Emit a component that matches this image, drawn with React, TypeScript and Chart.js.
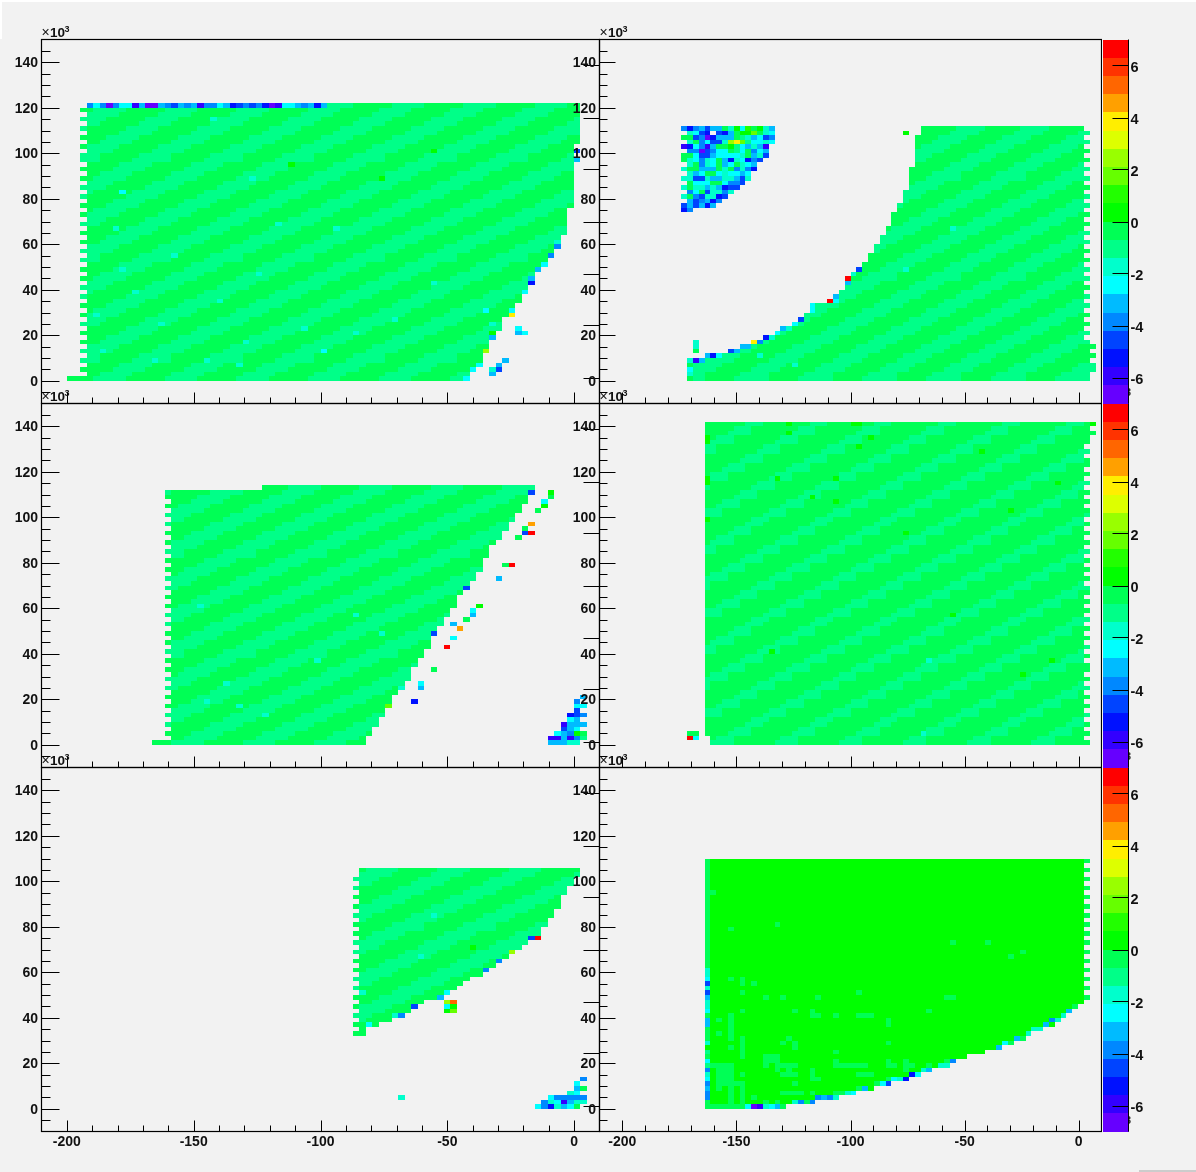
import React, { useEffect, useRef } from "react";
import { Chart, registerables, ScatterController } from "chart.js";

// ---- axes -------------------------------------------------------------
const xMajorTicks = [-200, -150, -100, -50, 0];
const xMinorTicks = [-190, -180, -170, -160, -140, -130, -120, -110, -90, -80, -70, -60, -40, -30, -20, -10];
const yMajorTicks = [0, 20, 40, 60, 80, 100, 120, 140];
const yMinorTicks = [-5, 5, 10, 15, 25, 30, 35, 45, 50, 55, 65, 70, 75, 85, 90, 95, 105, 110, 115, 125, 130, 135, 145];
const paletteTicks = [-6, -4, -2, 0, 2, 4, 6];
const paletteTicksInPadUnits = [1.4, 24.3, 47.1, 70, 92.9, 115.7, 138.6];

// ---- palette: 20 levels from -7 to 7, keyed a..t -----------------------
const levelKeys = "abcdefghijklmnopqrst";
const paletteColors = [
  "#6600ff", "#3300ff", "#0011ff", "#0044ff", "#0088ff", "#00bbff", "#00ffff", "#00ffcc", "#00ff88", "#00ff55",
  "#00ff00", "#22ff00", "#66ff00", "#99ff00", "#ddff00", "#ffee00", "#ffa000", "#ff6600", "#ff3300", "#ff0000",
];
const paletteEdges = [-7, -6.3, -5.6, -4.9, -4.2, -3.5, -2.8, -2.1, -1.4, -0.7, 0, 0.7, 1.4, 2.1, 2.8, 3.5, 4.2, 4.9, 5.6, 6.3];

// ---- the repeating diagonal band (11 bins x 22 rows), '#' = level i, '.' = level j.
// The texture of the bodies is this hand-read tile, not a bin-by-bin reading of every cell.
const wideBand = [
  "#####......", ".#####.....", "...#####...", "....#####..", "#.....#####", "#......####", "###......##", "####......#",
  ".#####.....", "..#####....", "....#####..", ".....#####.", "#......####", "##......###", "####......#", "#####......",
  "..#####....", "...#####...", ".....#####.", "......#####", "##......###", "###......##",
];
const narrowBand = [
  "####.......", ".###.......", "...####....", "....###....", "......####.", ".......###.", "#........##", "##........#",
  ".####......", "..###......", "....####...", ".....###...", ".......####", "........###", "###.......#", "###........",
  "..####.....", "...###.....", ".....####..", "......###..", "#.......###", "#........##",
];

// ---- first and one-past-last bin of every row, per panel ----------------
const p1Starts = [4, 7, 6, 7, 6, 7, 6, 7, 6, 7, 6, 7, 6, 7, 6, 7, 6, 7, 6, 7, 6, 7, 6, 7, 6, 7, 6, 7, 6, 7, 6, 7, 6, 7, 6, 7, 6, 7, 6, 7, 6, 7, 6, 7, 6, 7, 6, 7, 6, 6, 7, 6, 7, 6, 7, 6, 7, 6, 7, 6, 7];
const p1Ends = [66, 66, 67, 67, 68, 68, 69, 69, 69, 70, 70, 71, 71, 71, 73, 73, 73, 74, 74, 75, 75, 76, 76, 76, 77, 78, 78, 79, 79, 80, 80, 80, 81, 81, 81, 81, 81, 81, 82, 82, 82, 82, 82, 82, 82, 82, 82, 82, 82, 82, 83, 82, 83, 83, 83, 83, 83, 83, 83, 83, 83];
const p2Starts = [15, 15, 15, 15, 15, 18, 22, 24, 26, 28, 30, 31, 33, 34, 35, 36, 36, 39, 40, 41, 42, 42, 42, 43, 44, 45, 46, 46, 47, 47, 48, 48, 49, 49, 50, 50, 50, 51, 51, 52, 52, 52, 53, 53, 53, 53, 53, 54, 54, 54, 54, 54, 54, 54, 55, 55];
const p2Ends = [84, 84, 85, 85, 84, 85, 84, 85, 84, 83, 84, 83, 84, 83, 84, 83, 84, 83, 84, 83, 84, 83, 84, 83, 84, 83, 84, 83, 84, 83, 84, 83, 84, 83, 84, 83, 84, 83, 84, 83, 84, 83, 84, 83, 84, 83, 84, 83, 84, 83, 84, 83, 84, 83, 84, 83];
const p3Starts = [17, 20, 19, 20, 19, 20, 19, 20, 19, 20, 19, 20, 19, 20, 19, 20, 19, 20, 19, 20, 19, 20, 19, 20, 19, 20, 19, 20, 19, 20, 19, 20, 19, 20, 19, 20, 19, 20, 19, 20, 19, 20, 19, 20, 19, 20, 19, 20, 19, 20, 19, 20, 19, 20, 19, 19, 34];
const p3Ends = [50, 50, 51, 51, 52, 52, 53, 53, 54, 54, 54, 55, 56, 56, 57, 57, 57, 58, 58, 59, 59, 60, 60, 60, 61, 61, 62, 62, 63, 63, 64, 64, 64, 65, 66, 66, 67, 67, 68, 68, 68, 69, 69, 69, 70, 71, 71, 72, 72, 73, 73, 74, 74, 75, 75, 76, 76];
const p4Starts = [19, 19, 18, 18, 18, 18, 18, 18, 18, 18, 18, 18, 18, 18, 18, 18, 18, 18, 18, 18, 18, 18, 18, 18, 18, 18, 18, 18, 18, 18, 18, 18, 18, 18, 18, 18, 18, 18, 18, 18, 18, 18, 18, 18, 18, 18, 18, 18, 18, 18, 18, 18, 18, 18, 18, 18, 18, 18, 18, 18, 18, 18, 18, 18, 18, 18, 18, 18, 18, 18, 18];
const p4Ends = [84, 83, 84, 83, 84, 83, 84, 83, 84, 83, 84, 83, 84, 83, 84, 83, 84, 84, 83, 84, 83, 84, 83, 84, 83, 84, 83, 84, 83, 84, 83, 84, 83, 84, 84, 83, 84, 83, 84, 83, 84, 83, 84, 83, 84, 83, 84, 83, 84, 83, 84, 84, 83, 84, 83, 84, 83, 84, 83, 84, 83, 84, 84, 83, 84, 83, 84, 84, 85, 84, 84];
const p5Starts = [0, 0, 0, 0, 0, 0, 0, 0, 0, 0, 0, 0, 0, 0, 0, 0, 48, 49, 48, 49, 48, 49, 48, 49, 48, 49, 48, 49, 48, 49, 48, 49, 48, 49, 48, 49, 48, 49, 48, 49, 48, 49, 48, 49, 48, 49, 48, 49, 48, 49, 48, 49, 49];
const p5Ends = [0, 0, 0, 0, 0, 0, 0, 0, 0, 0, 0, 0, 0, 0, 0, 0, 50, 50, 52, 54, 55, 57, 58, 59, 62, 63, 64, 65, 66, 68, 69, 70, 71, 72, 73, 74, 75, 77, 77, 77, 78, 78, 79, 79, 80, 80, 80, 81, 81, 82, 82, 83, 83];
const p6Starts = [18, 18, 18, 18, 18, 18, 18, 18, 18, 18, 18, 18, 18, 18, 18, 18, 18, 18, 18, 18, 18, 18, 18, 18, 18, 18, 18, 18, 18, 18, 18, 18, 18, 18, 18, 18, 18, 18, 18, 18, 18, 18, 18, 18, 18, 18, 18, 18, 18, 18, 18, 18, 18, 18, 18];
const p6Ends = [32, 37, 41, 44, 47, 50, 53, 55, 57, 60, 61, 63, 66, 69, 71, 73, 74, 76, 78, 79, 80, 81, 82, 83, 84, 83, 84, 83, 84, 83, 84, 83, 84, 83, 84, 83, 84, 83, 84, 83, 84, 83, 84, 83, 84, 83, 84, 83, 84, 83, 84, 83, 84, 83, 84];

// ---- cells that differ from the body: [bin, row, level] -------------------
const p1TopRow = "egeaeggbfaafedfefbeegfcdedecabggfefcf"; // row 60 from bin 7
const p1Cells: [number, number, string][] = [
  [73, 11, "g"], [73, 10, "f"], [74, 10, "g"], [71, 4, "f"], [70, 3, "f"], [69, 2, "h"], [70, 2, "d"], [69, 1, "f"],
  [65, 0, "g"], [66, 2, "g"], [67, 3, "g"], [68, 6, "n"], [69, 9, "f"], [69, 10, "k"], [72, 14, "p"], [72, 15, "g"],
  [74, 19, "g"], [75, 21, "c"], [75, 22, "f"], [76, 24, "f"], [77, 25, "g"], [78, 27, "e"], [79, 29, "e"], [79, 30, "h"],
  [68, 15, "g"], [69, 12, "h"], [26, 57, "h"], [32, 44, "h"], [12, 41, "g"], [38, 47, "k"], [82, 50, "d"], [82, 48, "f"],
  [11, 33, "h"], [20, 27, "h"], [36, 34, "h"], [45, 33, "h"], [14, 19, "h"], [27, 17, "h"], [31, 8, "h"], [18, 12, "h"],
  [9, 6, "h"], [25, 4, "h"], [40, 11, "h"], [54, 13, "h"], [12, 24, "h"], [33, 23, "h"], [52, 44, "k"], [60, 50, "k"],
  [43, 6, "g"], [17, 4, "h"], [60, 21, "h"], [30, 3, "h"], [48, 10, "h"], [8, 14, "h"],
];
const p2Blob: [number, string][] = [ // row, palette keys from bin 14, '.' = empty
  [55, "ecefdffjhkgljkhf"], [54, ".hgdc.dcfjkkmjhg"], [53, "jjdeacfffjihfgde"], [52, ".hjegddhnpmigghg"],
  [51, "bcgebfjjkigfhfb"], [50, ".eeadeggjigjegf"], [49, "jjgddfgggghjfhd"], [48, "jhgehgjfchgced"],
  [47, ".hjehgjfgjhgf"], [46, "hjjfffjhjehec"], [45, ".hfgjjghggfg"], [44, "hhddhffhhfdh"],
  [43, ".jgggjjgeed"], [42, "hjhhfhfcdd"], [41, ".egjdhheh"], [40, "hjedhhcd"], [39, ".fdefce"], [38, "dfdfcf"], [37, "ce"],
];
const p2Cells: [number, number, string][] = [
  [16, 6, "j"], [16, 7, "h"], [16, 8, "h"], [15, 0, "j"], [15, 1, "h"], [15, 2, "g"], [15, 3, "j"], [15, 4, "h"], [16, 4, "b"], [17, 4, "f"],
  [18, 5, "f"], [19, 5, "c"], [20, 5, "g"], [22, 6, "d"], [23, 6, "f"], [24, 7, "f"], [25, 7, "f"], [26, 8, "p"], [27, 8, "e"], [28, 9, "c"], [29, 9, "h"],
  [30, 10, "g"], [31, 11, "f"], [32, 11, "h"], [33, 12, "g"], [34, 13, "d"], [36, 15, "g"], [36, 16, "g"], [39, 17, "t"], [40, 17, "g"], [40, 18, "f"],
  [42, 21, "f"], [42, 22, "t"], [43, 23, "h"], [44, 24, "d"], [52, 54, "k"], [52, 24, "h"], [27, 5, "h"], [33, 3, "h"], [60, 33, "h"],
];
const p3Cells: [number, number, string][] = [
  [78, 55, "k"], [78, 54, "j"], [77, 53, "g"], [77, 52, "k"], [76, 51, "j"], [75, 48, "q"], [74, 47, "j"], [74, 46, "d"], [75, 46, "t"], [73, 45, "j"],
  [71, 39, "j"], [72, 39, "t"], [70, 36, "f"], [75, 55, "d"], [65, 34, "d"], [67, 30, "k"], [66, 29, "g"], [66, 28, "f"], [65, 27, "j"], [64, 25, "q"],
  [60, 24, "d"], [63, 26, "f"], [63, 23, "g"], [62, 21, "t"], [60, 16, "j"], [58, 13, "g"], [58, 12, "f"], [57, 9, "c"], [53, 8, "m"],
  [78, 0, "f"], [79, 0, "f"], [80, 0, "f"], [81, 0, "h"], [82, 0, "h"],
  [78, 1, "b"], [79, 1, "b"], [80, 1, "f"], [81, 1, "b"], [82, 1, "e"], [83, 1, "i"],
  [79, 2, "g"], [80, 2, "f"], [81, 2, "e"], [82, 2, "k"], [83, 2, "j"],
  [80, 3, "d"], [81, 3, "f"], [82, 3, "g"], [80, 4, "b"], [81, 4, "f"], [82, 4, "f"], [83, 4, "f"],
  [81, 5, "g"], [82, 5, "f"], [81, 6, "c"], [82, 6, "d"], [83, 6, "e"], [82, 7, "d"], [82, 8, "g"], [83, 8, "g"], [82, 9, "e"], [83, 10, "f"],
  [25, 9, "h"], [28, 13, "h"], [30, 8, "h"], [34, 6, "h"], [42, 18, "h"], [48, 28, "h"], [52, 24, "h"], [24, 30, "h"], [55, 12, "h"],
];
const p4Cells: [number, number, string][] = [
  [32, 70, "k"], [43, 70, "k"], [44, 70, "k"], [32, 68, "k"], [18, 66, "k"], [18, 67, "k"], [46, 67, "k"], [44, 65, "k"], [30, 58, "k"], [40, 58, "k"],
  [18, 57, "k"], [18, 58, "k"], [36, 54, "k"], [40, 53, "k"], [18, 49, "k"], [56, 18, "h"], [29, 20, "k"], [72, 15, "k"], [77, 18, "k"], [84, 70, "k"],
  [15, 2, "j"], [16, 2, "j"], [15, 1, "t"], [16, 1, "g"], [52, 46, "k"], [65, 64, "k"], [70, 51, "k"], [60, 28, "k"], [78, 57, "k"], [55, 2, "h"],
];
const p5Cells: [number, number, string][] = [
  [62, 23, "n"], [63, 23, "r"], [62, 22, "g"], [63, 22, "k"], [62, 21, "k"], [63, 21, "m"],
  [83, 6, "e"], [82, 5, "g"], [82, 4, "f"], [83, 4, "j"], [81, 3, "h"], [82, 3, "g"],
  [78, 2, "g"], [79, 2, "e"], [80, 2, "e"], [81, 2, "e"], [82, 2, "e"], [83, 2, "e"],
  [77, 1, "e"], [78, 1, "h"], [79, 1, "g"], [80, 1, "b"], [81, 1, "f"], [82, 1, "h"], [83, 1, "h"],
  [76, 0, "g"], [77, 0, "e"], [78, 0, "c"], [79, 0, "h"], [80, 0, "f"], [81, 0, "g"], [82, 0, "j"],
  [55, 2, "h"], [72, 34, "n"], [70, 32, "e"], [68, 30, "e"], [62, 25, "g"], [61, 24, "f"], [76, 37, "t"], [75, 37, "d"],
  [55, 20, "e"], [54, 20, "h"], [50, 18, "g"], [57, 22, "d"], [49, 25, "h"], [60, 42, "h"], [58, 33, "h"], [66, 35, "k"],
];
const p6Cells: [number, number, string][] = [
  [25, 0, "g"], [26, 0, "a"], [27, 0, "b"], [28, 0, "h"], [29, 0, "g"], [30, 0, "f"], [31, 0, "j"],
  [33, 1, "h"], [34, 1, "e"], [35, 1, "j"], [36, 1, "e"], [37, 2, "e"], [38, 2, "f"], [39, 2, "e"], [40, 2, "h"],
  [40, 3, "j"], [41, 3, "j"], [42, 3, "h"], [43, 3, "g"], [44, 4, "j"], [45, 4, "f"], [46, 4, "k"],
  [47, 5, "j"], [48, 5, "g"], [49, 5, "d"], [49, 6, "j"], [50, 6, "g"], [51, 6, "h"], [52, 6, "c"],
  [53, 7, "c"], [54, 7, "g"], [55, 8, "h"], [56, 8, "f"], [56, 9, "j"], [58, 9, "h"], [59, 9, "h"], [59, 10, "j"], [60, 10, "e"],
  [68, 13, "f"], [69, 14, "g"], [70, 14, "j"], [71, 15, "f"], [72, 15, "j"], [73, 16, "h"], [74, 17, "h"], [75, 17, "h"],
  [76, 18, "f"], [77, 19, "e"], [78, 19, "h"], [79, 20, "h"], [80, 21, "f"], [81, 22, "j"],
  [30, 40, "j"], [60, 36, "j"], [66, 36, "j"], [70, 33, "j"], [72, 34, "j"], [19, 47, "j"], [22, 39, "j"],
];
const p6Strip = "jjeefegheigjikhjjjffjghhfdhdghh"; // bin 18 from row 0
const p6Patches: [number, number, number, number, string][] = [ // bins c0..c1, rows r0..r1
  [18, 19, 31, 55, "j"], [83, 85, 24, 55, "j"],
  [19, 25, 0, 1, "j"], [22, 23, 28, 29, "j"], [24, 25, 27, 29, "j"], [26, 27, 27, 28, "j"], [24, 25, 25, 26, "j"], [28, 29, 24, 25, "j"], [31, 32, 24, 25, "j"],
  [37, 38, 24, 25, "j"], [44, 45, 25, 26, "j"], [59, 61, 24, 25, "j"], [24, 25, 21, 22, "j"], [33, 34, 21, 22, "j"], [36, 37, 21, 22, "j"], [56, 57, 21, 22, "j"],
  [36, 38, 20, 21, "j"], [40, 41, 20, 21, "j"], [44, 47, 20, 21, "j"], [22, 23, 15, 21, "j"], [20, 21, 19, 20, "j"], [49, 50, 18, 20, "j"], [20, 21, 16, 17, "j"],
  [24, 25, 11, 16, "j"], [32, 33, 15, 16, "j"], [31, 32, 14, 15, "j"], [33, 34, 13, 15, "j"], [49, 50, 14, 15, "j"], [22, 23, 13, 14, "j"], [40, 41, 12, 13, "j"],
  [28, 31, 10, 12, "j"], [40, 41, 10, 11, "j"], [49, 50, 10, 11, "j"], [52, 53, 9, 11, "j"], [19, 23, 9, 10, "j"], [28, 29, 9, 10, "j"], [30, 34, 9, 10, "j"],
  [40, 46, 9, 10, "j"], [49, 51, 9, 10, "j"], [53, 54, 9, 10, "j"], [20, 23, 5, 9, "j"], [20, 21, 4, 5, "j"], [22, 23, 4, 5, "j"], [30, 31, 8, 9, "j"], [32, 33, 8, 9, "j"],
  [36, 37, 6, 9, "j"], [52, 53, 8, 9, "j"], [24, 25, 7, 8, "j"], [31, 34, 7, 8, "j"], [44, 47, 7, 8, "j"], [37, 38, 6, 7, "j"], [23, 25, 5, 6, "j"], [33, 34, 5, 6, "j"],
  [22, 23, 1, 4, "j"], [24, 25, 1, 6, "j"], [31, 35, 3, 4, "j"], [36, 37, 3, 4, "j"], [26, 27, 2, 3, "j"], [28, 29, 1, 2, "j"], [30, 31, 1, 2, "j"],
];

// ---- bins ---------------------------------------------------------------
const xMin = -210;
const xMax = 10;
const yMin = -10;
const yMax = 150;
const binCount = 86;
const binW = (xMax - xMin) / binCount;
const binH = 2;

type Grid = Map<string, number>;

function fillBody(g: Grid, starts: number[], ends: number[], body: string, band: string[] | null, dc: number, dr: number) {
  const base = levelKeys.indexOf(body);
  for (let r = 0; r < starts.length; r++) {
    for (let c = starts[r]; c < ends[r]; c++) {
      let lv = base;
      if (band && band[(r + dr) % band.length][(c + dc) % band[0].length] === "#") lv = base - 1;
      g.set(c + ":" + r, lv);
    }
  }
}
function putCells(g: Grid, cells: [number, number, string][]) {
  for (const [c, r, k] of cells) g.set(c + ":" + r, levelKeys.indexOf(k));
}
function toDatasets(g: Grid) {
  const byLevel: { x: number; y: number }[][] = paletteColors.map(() => []);
  g.forEach((lv, key) => {
    const [c, r] = key.split(":").map(Number);
    byLevel[lv].push({ x: xMin + c * binW, y: r * binH });
  });
  return byLevel
    .map((data, i) => ({ type: "cells", label: "level " + paletteEdges[i], data, backgroundColor: paletteColors[i], cellW: binW, cellH: binH, pointRadius: 0 }))
    .filter((d) => d.data.length > 0);
}

function panel1() {
  const g: Grid = new Map();
  fillBody(g, p1Starts, p1Ends, "j", wideBand, 3, 0);
  [...p1TopRow].forEach((k, i) => g.set(7 + i + ":60", levelKeys.indexOf(k)));
  putCells(g, p1Cells);
  return toDatasets(g);
}
function panel2() {
  const g: Grid = new Map();
  fillBody(g, p2Starts, p2Ends, "j", wideBand, 5, 4);
  for (const [r, s] of p2Blob) [...s].forEach((k, i) => { if (k !== ".") g.set(14 + i + ":" + r, levelKeys.indexOf(k)); });
  putCells(g, p2Cells);
  return toDatasets(g);
}
function panel3() {
  const g: Grid = new Map();
  fillBody(g, p3Starts, p3Ends, "j", wideBand, 1, 7);
  putCells(g, p3Cells);
  return toDatasets(g);
}
function panel4() {
  const g: Grid = new Map();
  fillBody(g, p4Starts, p4Ends, "j", narrowBand, 6, 2);
  putCells(g, p4Cells);
  return toDatasets(g);
}
function panel5() {
  const g: Grid = new Map();
  fillBody(g, p5Starts, p5Ends, "j", wideBand, 8, 9);
  putCells(g, p5Cells);
  return toDatasets(g);
}
function panel6() {
  const g: Grid = new Map();
  fillBody(g, p6Starts, p6Ends, "k", null, 0, 0);
  for (const [c0, c1, r0, r1, k] of p6Patches)
    for (let r = r0; r < r1; r++) for (let c = c0; c < c1; c++) if (g.has(c + ":" + r)) g.set(c + ":" + r, levelKeys.indexOf(k));
  [...p6Strip].forEach((k, r) => g.set("18:" + r, levelKeys.indexOf(k)));
  putCells(g, p6Cells);
  return toDatasets(g);
}

// ---- a controller that paints each parsed point as a full bin, through the scales ----
class CellController extends ScatterController {
  static id = "cells";
  static defaults = { ...ScatterController.defaults };
  static overrides = ScatterController.overrides;
  draw() {
    const meta: any = this._cachedMeta;
    const ds: any = this.getDataset();
    const ctx: CanvasRenderingContext2D = (this as any).chart.ctx;
    const xs = meta.xScale;
    const ys = meta.yScale;
    ctx.fillStyle = ds.backgroundColor;
    for (const p of ds.data) {
      const x0 = Math.round(xs.getPixelForValue(p.x));
      const x1 = Math.round(xs.getPixelForValue(p.x + ds.cellW));
      const y0 = Math.round(ys.getPixelForValue(p.y + ds.cellH));
      const y1 = Math.round(ys.getPixelForValue(p.y));
      ctx.fillRect(x0, y0, x1 - x0, y1 - y0);
    }
  }
}
Chart.register(...registerables, CellController);

const FONT = '"Liberation Sans", Arial, sans-serif';

const marksPlugin = (isLeft: boolean) => ({
  id: "marks",
  afterDatasetsDraw(chart: any) {
    const { ctx, chartArea: a, scales } = chart;
    const y = scales.y;
    const x = scales.x;
    const yMaj = isLeft ? 18 : 16;
    const yMin2 = isLeft ? 9 : 8;
    const seg = (x0: number, y0: number, x1: number, y1: number) => {
      ctx.beginPath();
      ctx.moveTo(x0, y0);
      ctx.lineTo(x1, y1);
      ctx.stroke();
    };
    ctx.save();
    ctx.strokeStyle = "#000";
    ctx.lineWidth = 1;
    yMajorTicks.forEach((v) => {
      const p = Math.round(y.getPixelForValue(v)) + 0.5;
      seg(a.left, p, a.left + yMaj, p);
    });
    yMinorTicks.forEach((v) => {
      const p = Math.round(y.getPixelForValue(v)) + 0.5;
      seg(a.left, p, a.left + yMin2, p);
    });
    xMajorTicks.forEach((v) => {
      const p = Math.round(x.getPixelForValue(v)) + 0.5;
      seg(p, a.bottom, p, a.bottom - 11);
    });
    xMinorTicks.forEach((v) => {
      const p = Math.round(x.getPixelForValue(v)) + 0.5;
      seg(p, a.bottom, p, a.bottom - 6);
    });
    if (isLeft) {
      paletteTicksInPadUnits.forEach((v) => {
        const p = Math.round(y.getPixelForValue(v)) + 0.5;
        seg(a.right - 16, p, a.right, p);
      });
    }
    ctx.lineWidth = 1.2;
    ctx.strokeRect(a.left, a.top, a.right - a.left, a.bottom - a.top);
    ctx.fillStyle = "#111";
    ctx.textBaseline = "alphabetic";
    ctx.textAlign = "left";
    ctx.font = "14px " + FONT;
    ctx.fillText("\u00d7", a.left, a.top - 2.5);
    ctx.font = "bold 13.5px " + FONT;
    ctx.fillText("10", a.left + 8.5, a.top - 2.5);
    ctx.font = "bold 9px " + FONT;
    ctx.fillText("3", a.left + 23, a.top - 8);
    ctx.restore();
  },
});

const barMarksPlugin = {
  id: "barMarks",
  afterDatasetsDraw(chart: any) {
    const { ctx, chartArea: a, scales } = chart;
    ctx.save();
    ctx.strokeStyle = "#000";
    ctx.lineWidth = 1;
    paletteTicks.forEach((v) => {
      const p = Math.round(scales.y.getPixelForValue(v)) + 0.5;
      ctx.beginPath();
      ctx.moveTo(a.right - 16, p);
      ctx.lineTo(a.right, p);
      ctx.stroke();
    });
    ctx.beginPath();
    ctx.moveTo(a.right, a.top);
    ctx.lineTo(a.right, a.bottom);
    ctx.stroke();
    ctx.beginPath();
    ctx.rect(a.right + 0.5, a.bottom - 20, 8, 20);
    ctx.clip();
    ctx.fillStyle = "#333";
    ctx.font = "bold 11px " + FONT;
    ctx.textAlign = "left";
    ctx.fillText("3", a.right - 3.5, a.bottom - 7.5);
    ctx.restore();
  },
};

function panelConfig(datasets: any[], isLeft: boolean, showX: boolean): any {
  return {
    type: "cells",
    data: { datasets },
    plugins: [marksPlugin(isLeft)],
    options: {
      animation: false,
      responsive: false,
      devicePixelRatio: 1,
      events: [],
      layout: { autoPadding: false, padding: { top: 15.5, bottom: 0.5, left: 0, right: isLeft ? 1.5 : 0.5 } },
      plugins: { legend: { display: false }, tooltip: { enabled: false } },
      scales: {
        x: {
          type: "linear",
          min: xMin,
          max: xMax,
          grid: { display: false, drawTicks: false },
          border: { display: false },
          afterBuildTicks: (ax: any) => { ax.ticks = xMajorTicks.map((value) => ({ value })); },
          afterFit: (s: any) => { s.height = 26; },
          ticks: { display: showX, autoSkip: false, maxRotation: 0, padding: 2, color: "#111", font: { family: FONT, size: 14, weight: "bold" }, callback: (v: any) => String(v) },
        },
        y: {
          type: "linear",
          min: yMin,
          max: yMax,
          grid: { display: false, drawTicks: false },
          border: { display: false },
          afterBuildTicks: (ax: any) => { ax.ticks = yMajorTicks.map((value) => ({ value })); },
          afterFit: (s: any) => { s.width = isLeft ? 41.5 : 39.5; },
          ticks: { autoSkip: false, padding: 3.5, labelOffset: 1, color: "#111", font: { family: FONT, size: 14, weight: "bold" }, callback: (v: any) => String(v) },
        },
      },
    },
  };
}

function barConfig(): any {
  return {
    type: "cells",
    data: {
      datasets: paletteColors.map((col, i) => ({
        type: "cells",
        label: "level " + paletteEdges[i],
        data: [{ x: 0, y: paletteEdges[i] }],
        backgroundColor: col,
        cellW: 1,
        cellH: 0.7,
        pointRadius: 0,
      })),
    },
    plugins: [barMarksPlugin],
    options: {
      animation: false,
      responsive: false,
      devicePixelRatio: 1,
      events: [],
      layout: { autoPadding: false, padding: { top: 15.5, bottom: 26.5, left: 8, right: 0.5 } },
      plugins: { legend: { display: false }, tooltip: { enabled: false } },
      scales: {
        x: { type: "linear", min: 0, max: 1, display: false },
        y: {
          type: "linear",
          position: "right",
          min: -7,
          max: 7,
          grid: { display: false, drawTicks: false },
          border: { display: false },
          afterBuildTicks: (ax: any) => { ax.ticks = paletteTicks.map((value) => ({ value })); },
          afterFit: (s: any) => { s.width = 25; },
          ticks: { autoSkip: false, padding: 2, labelOffset: 2, color: "#111", font: { family: FONT, size: 14.5, weight: "bold" }, callback: (v: any) => String(v) },
        },
      },
    },
  };
}

const rowTops = [24, 388, 752];
const layoutBoxes = [
  { key: "p1", left: 0, w: 601, row: 0 },
  { key: "p2", left: 560, w: 542, row: 0 },
  { key: "p3", left: 0, w: 601, row: 1 },
  { key: "p4", left: 560, w: 542, row: 1 },
  { key: "p5", left: 0, w: 601, row: 2 },
  { key: "p6", left: 560, w: 542, row: 2 },
  { key: "b1", left: 1095, w: 59, row: 0 },
  { key: "b2", left: 1095, w: 59, row: 1 },
  { key: "b3", left: 1095, w: 59, row: 2 },
];

export default function App() {
  const refs = useRef<(HTMLCanvasElement | null)[]>([]);
  useEffect(() => {
    const cfgs = [
      panelConfig(panel1(), true, false),
      panelConfig(panel2(), false, false),
      panelConfig(panel3(), true, false),
      panelConfig(panel4(), false, false),
      panelConfig(panel5(), true, true),
      panelConfig(panel6(), false, true),
      barConfig(),
      barConfig(),
      barConfig(),
    ];
    const charts = cfgs.map((c, i) => new Chart(refs.current[i] as HTMLCanvasElement, c));
    return () => charts.forEach((c) => c.destroy());
  }, []);
  return (
    <div style={{ position: "absolute", left: 0, top: 0, width: 1196, height: 1172, background: "#f2f2f2", overflow: "hidden" }}>
      <div style={{ position: "absolute", left: 0, top: 0, width: 1196, height: 2, background: "#fff" }} />
      <div style={{ position: "absolute", left: 0, top: 0, width: 2, height: 39, background: "#fff" }} />
      <div style={{ position: "absolute", left: 1139, top: 1170, width: 57, height: 2, background: "#ccc" }} />
      {layoutBoxes.map((b, i) => (
        <canvas
          key={b.key}
          ref={(el) => { refs.current[i] = el; }}
          width={b.w}
          height={406}
          style={{ position: "absolute", left: b.left, top: rowTops[b.row], width: b.w, height: 406 }}
        />
      ))}
    </div>
  );
}
